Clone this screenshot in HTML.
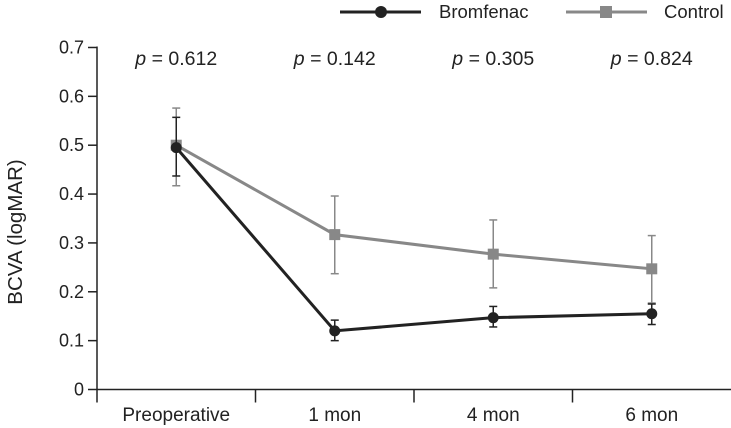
<!DOCTYPE html>
<html><head><meta charset="utf-8"><style>
html,body{margin:0;padding:0;background:#fff;}
svg{display:block;font-family:"Liberation Sans",Arial,sans-serif;}
</style></head><body>
<svg id="chart" width="731" height="428" viewBox="0 0 731 428" xmlns="http://www.w3.org/2000/svg"></svg>
<script>
const categories = ["Preoperative","1 mon","4 mon","6 mon"];
const bromMean = [0.495, 0.120, 0.147, 0.155];
const bromLow  = [0.437, 0.100, 0.128, 0.133];
const bromHigh = [0.557, 0.142, 0.170, 0.175];
const ctrlMean = [0.500, 0.317, 0.277, 0.247];
const ctrlLow  = [0.417, 0.237, 0.208, 0.177];
const ctrlHigh = [0.576, 0.396, 0.347, 0.315];
const pValues = ["0.612","0.142","0.305","0.824"];
const yTicks = [0,0.1,0.2,0.3,0.4,0.5,0.6,0.7];
const yTickLabels = ["0","0.1","0.2","0.3","0.4","0.5","0.6","0.7"];

const svg = document.getElementById('chart');
const NS = 'http://www.w3.org/2000/svg';
const X0 = 97, X1 = 731, Y0 = 389.5, PXPER = 488.6;
const step = (X1 - X0) / categories.length;
const xs = i => X0 + step * (i + 0.5);
const ys = v => Y0 - v * PXPER;
function mk(tag, attrs, parent) {
  const e = document.createElementNS(NS, tag);
  for (const k in attrs) e.setAttribute(k, attrs[k]);
  (parent || svg).appendChild(e);
  return e;
}
let e = mk('line', {x1:X0, y1:ys(0.7)-1, x2:X0, y2:Y0+13, stroke:'#222', 'stroke-width':1.5});


e = mk('line', {x1:X0, y1:Y0, x2:X1, y2:Y0, stroke:'#222', 'stroke-width':1.5});


yTicks.forEach((t, i) => {
  const y = ys(t);
  const tk = mk('line', {x1:X0-9, y1:y, x2:X0, y2:y, stroke:'#222', 'stroke-width':1.5});
  
  
  const tl = mk('text', {x:X0-13, y:y+6, 'text-anchor':'end', 'font-size':18, fill:'#222'});
  tl.textContent = yTickLabels[i];
  
  
});
for (let i = 1; i < categories.length; i++) {
  const x = X0 + step * i;
  const tk = mk('line', {x1:x, y1:Y0, x2:x, y2:Y0+13, stroke:'#222', 'stroke-width':1.5});
  
  
}
categories.forEach((c, i) => {
  const tl = mk('text', {x:xs(i), y:421, 'text-anchor':'middle', 'font-size':19, fill:'#222'});
  tl.textContent = c;
  
  
  const pt = mk('text', {x:xs(i), y:65, 'text-anchor':'middle', 'font-size':19.5, fill:'#222'});
  pt.innerHTML = '<tspan font-style="italic">p</tspan> = ' + pValues[i];
  
  
});
const yt = mk('text', {transform:'translate(22,232) rotate(-90)', 'text-anchor':'middle', 'font-size':20.5, fill:'#222'});
yt.textContent = 'BCVA (logMAR)';



function series(mean, lo, hi, color, marker, name) {
  const g = mk('g', {});
  
  
  mean.forEach((m, i) => {
    const x = xs(i);
    mk('line', {x1:x, y1:ys(lo[i]), x2:x, y2:ys(hi[i]), stroke:color, 'stroke-width':1.5}, g);
    mk('line', {x1:x-4, y1:ys(lo[i]), x2:x+4, y2:ys(lo[i]), stroke:color, 'stroke-width':1.5}, g);
    mk('line', {x1:x-4, y1:ys(hi[i]), x2:x+4, y2:ys(hi[i]), stroke:color, 'stroke-width':1.5}, g);
  });
  const pl = mk('polyline', {points: mean.map((m, i) => xs(i) + ',' + ys(m)).join(' '), fill:'none', stroke:color, 'stroke-width':3}, g);
  
  
  mean.forEach((m, i) => {
    const p = marker === 'circle'
      ? mk('circle', {cx:xs(i), cy:ys(m), r:5.5, fill:color}, g)
      : mk('rect', {x:xs(i)-5.5, y:ys(m)-5.5, width:11, height:11, fill:color}, g);
    
    
  });
}
series(ctrlMean, ctrlLow, ctrlHigh, '#888', 'square', 'control');
series(bromMean, bromLow, bromHigh, '#222', 'circle', 'bromfenac');

const lg1 = mk('g', {});


mk('line', {x1:340, y1:12, x2:421, y2:12, stroke:'#222', 'stroke-width':3}, lg1);
mk('circle', {cx:381, cy:12, r:6, fill:'#222'}, lg1);
let t = mk('text', {x:439, y:18, 'font-size':18.5, fill:'#222'}, lg1); t.textContent = 'Bromfenac';
const lg2 = mk('g', {});


mk('line', {x1:566, y1:12, x2:647, y2:12, stroke:'#888', 'stroke-width':3}, lg2);
mk('rect', {x:600, y:6, width:12, height:12, fill:'#888'}, lg2);
t = mk('text', {x:664, y:18, 'font-size':18.5, fill:'#222'}, lg2); t.textContent = 'Control';
</script>
</body></html>
